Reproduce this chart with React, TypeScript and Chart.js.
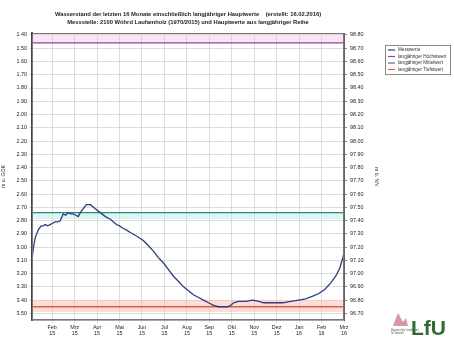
import { useEffect, useRef } from "react";
import Chart from "chart.js/auto";

const titleLines = [
  "Wasserstand der letzten 16 Monate einschließlich langjähriger Hauptwerte    (erstellt: 16.02.2016)",
  "Messstelle: 2100 Wöhrd Laufamholz (1970/2015) und Hauptwerte aus langjähriger Reihe",
];
const monthTicks = [1, 2, 3, 4, 5, 6, 7, 8, 9, 10, 11, 12, 13, 14];
const monthLabels = [
  ["Feb", "15"], ["Mrz", "15"], ["Apr", "15"], ["Mai", "15"], ["Jun", "15"], ["Jul", "15"],
  ["Aug", "15"], ["Sep", "15"], ["Okt", "15"], ["Nov", "15"], ["Dez", "15"], ["Jan", "16"],
  ["Feb", "16"], ["Mrz", "16"],
];
const dataMonths = [
  0.11, 0.15, 0.24, 0.38, 0.51, 0.6, 0.69, 0.8, 0.91, 1.02, 1.13, 1.25, 1.36, 1.49, 1.6, 1.71,
  1.82, 1.94, 2.05, 2.16, 2.25, 2.34, 2.52, 2.7, 2.92, 3.14, 3.37, 3.59, 3.86, 4.0, 4.17, 4.3,
  4.48, 4.79, 5.06, 5.29, 5.51, 5.73, 5.96, 6.18, 6.4, 6.63, 6.85, 7.07, 7.29, 7.52, 7.74, 7.96,
  8.19, 8.41, 8.63, 8.81, 8.95, 9.08, 9.3, 9.62, 9.93, 10.2, 10.42, 10.64, 10.96, 11.27, 11.63,
  11.98, 12.29, 12.61, 12.88, 13.14, 13.41, 13.63, 13.81, 13.95, 14.0,
];
const dataLevels = [
  3.08, 3.02, 2.93, 2.87, 2.84, 2.84, 2.83, 2.84, 2.83, 2.82, 2.81, 2.81, 2.8, 2.75, 2.76, 2.74,
  2.75, 2.75, 2.76, 2.77, 2.74, 2.72, 2.68, 2.68, 2.71, 2.74, 2.77, 2.79, 2.83, 2.84, 2.86, 2.87,
  2.89, 2.92, 2.95, 2.99, 3.03, 3.08, 3.12, 3.17, 3.22, 3.26, 3.3, 3.33, 3.36, 3.38, 3.4, 3.42,
  3.44, 3.45, 3.45, 3.45, 3.44, 3.42, 3.41, 3.41, 3.4, 3.41, 3.42, 3.42, 3.42, 3.42, 3.41, 3.4,
  3.39, 3.37, 3.35, 3.32, 3.27, 3.22, 3.16, 3.08, 3.04,
];
const leftTicks = [
  1.4, 1.5, 1.6, 1.7, 1.8, 1.9, 2.0, 2.1, 2.2, 2.3, 2.4, 2.5, 2.6, 2.7, 2.8, 2.9, 3.0, 3.1, 3.2,
  3.3, 3.4, 3.5,
];
const groundLevel = 100.2;
const seriesName = "Messwerte";
const refNames = ["langjähriger Höchstwert", "langjähriger Mittelwert", "langjähriger Tiefstwert"];
const refLevels = [1.46, 2.74, 3.45];
const bandRanges = [
  [1.385, 1.46],
  [2.74, 2.79],
  [3.4, 3.49],
];

const X_MIN = 0.1;
const X_MAX = 14.0;
const Y_MIN = 1.385;
const Y_MAX = 3.55;

const lineColor = "#2b3d86";
const refColors = ["#9a3fa6", "#2f8a72", "#e2603c"];
const bandColors = ["rgba(240,190,225,0.4)", "rgba(190,235,235,0.5)", "rgba(250,190,175,0.5)"];

export default function App() {
  const ref = useRef<HTMLCanvasElement | null>(null);
  useEffect(() => {
    document.body.style.margin = "0";
    const canvas = ref.current!;
    const datasets: any[] = [];
    datasets.push({
      label: seriesName,
      data: dataMonths.map((m, i) => ({ x: m, y: dataLevels[i] })),
      borderColor: lineColor,
      borderWidth: 1.3,
      pointRadius: 0,
      fill: false,
    });
    refLevels.forEach((v, i) => {
      datasets.push({
        label: refNames[i],
        data: [{ x: X_MIN, y: v }, { x: X_MAX, y: v }],
        borderColor: refColors[i],
        borderWidth: 1.3,
        pointRadius: 0,
        fill: false,
      });
    });
    bandRanges.forEach((b, i) => {
      datasets.push({
        label: "band" + i + "a",
        data: [{ x: X_MIN, y: b[0] }, { x: X_MAX, y: b[0] }],
        borderWidth: 0,
        borderColor: "rgba(0,0,0,0)",
        backgroundColor: bandColors[i],
        pointRadius: 0,
        fill: "+1",
      });
      datasets.push({
        label: "band" + i + "b",
        data: [{ x: X_MIN, y: b[1] }, { x: X_MAX, y: b[1] }],
        borderWidth: 0,
        borderColor: "rgba(0,0,0,0)",
        pointRadius: 0,
        fill: false,
      });
    });

    const decor = {
      id: "decor",
      afterDraw(chart: any) {
        const ctx = chart.ctx as CanvasRenderingContext2D;
        const a = chart.chartArea;
        ctx.save();
        ctx.strokeStyle = "#777";
        ctx.lineWidth = 1;
        ctx.strokeRect(a.left + 0.5, a.top + 0.5, a.right - a.left - 1, a.bottom - a.top - 1);
        ctx.fillStyle = "#222";
        ctx.textAlign = "center";
        ctx.textBaseline = "middle";
        ctx.font = "bold 5.8px 'Liberation Sans', Arial, sans-serif";
        const cx = (a.left + a.right) / 2;
        ctx.fillText(titleLines[0], cx, 14);
        ctx.fillText(titleLines[1], cx, 22);
        const lx = 385, ly = 45, lw = 65, lh = 29;
        ctx.fillStyle = "#fff";
        ctx.fillRect(lx, ly, lw, lh);
        ctx.strokeStyle = "#888";
        ctx.lineWidth = 1;
        ctx.strokeRect(lx + 0.5, ly + 0.5, lw, lh);
        const names = [seriesName, ...refNames];
        const cols = [lineColor, ...refColors];
        ctx.textAlign = "left";
        ctx.font = "4.6px 'Liberation Sans', Arial, sans-serif";
        names.forEach((n, i) => {
          const y = ly + 5 + i * 6.5;
          ctx.strokeStyle = cols[i];
          ctx.lineWidth = 1.2;
          ctx.beginPath();
          ctx.moveTo(lx + 3, y);
          ctx.lineTo(lx + 10, y);
          ctx.stroke();
          ctx.fillStyle = "#333";
          ctx.fillText(n, lx + 13, y);
        });
        ctx.fillStyle = "#c0506a";
        ctx.beginPath();
        ctx.moveTo(393, 326);
        ctx.lineTo(398, 313);
        ctx.lineTo(403, 322);
        ctx.lineTo(406, 318);
        ctx.lineTo(408, 326);
        ctx.closePath();
        ctx.globalAlpha = 0.6;
        ctx.fill();
        ctx.globalAlpha = 1;
        ctx.fillStyle = "#555";
        ctx.font = "2.6px 'Liberation Sans', Arial, sans-serif";
        ctx.fillText("Bayerisches Landesamt", 391, 330);
        ctx.fillText("für Umwelt", 391, 333);
        ctx.fillStyle = "#2f6b2f";
        ctx.font = "bold 21px 'Liberation Sans', Arial, sans-serif";
        ctx.textBaseline = "alphabetic";
        ctx.fillText("LfU", 411, 335);
        ctx.restore();
      },
    };

    const tickFont = { size: 5.4, family: "'Liberation Sans', Arial, sans-serif" };
    const chart = new Chart(canvas, {
      type: "line",
      data: { datasets },
      plugins: [decor],
      options: {
        animation: false,
        responsive: false,
        maintainAspectRatio: false,
        layout: { padding: { top: 33, right: 72, bottom: 0, left: 0 } },
        plugins: { legend: { display: false }, tooltip: { enabled: false }, title: { display: false } },
        scales: {
          x: {
            type: "linear",
            min: X_MIN,
            max: X_MAX,
            afterBuildTicks: (axis: any) => {
              axis.ticks = monthTicks.map((v) => ({ value: v }));
            },
            afterFit: (s: any) => {
              s.height = 21;
            },
            ticks: {
              autoSkip: false,
              maxRotation: 0,
              minRotation: 0,
              font: tickFont,
              color: "#222",
              padding: 1,
              callback: (v: any) => {
                const i = monthTicks.indexOf(Number(v));
                return i >= 0 ? monthLabels[i] : "";
              },
            },
            grid: { color: "#cfcfcf", lineWidth: 0.7, tickLength: 3 },
            border: { color: "#555", width: 1.5 },
          },
          y: {
            type: "linear",
            position: "left",
            reverse: true,
            min: Y_MIN,
            max: Y_MAX,
            afterBuildTicks: (axis: any) => {
              axis.ticks = leftTicks.map((v) => ({ value: v }));
            },
            afterFit: (s: any) => {
              s.width = 32;
            },
            ticks: {
              font: tickFont,
              color: "#222",
              padding: 2,
              callback: (v: any) => Number(v).toFixed(2),
            },
            title: {
              display: true,
              text: "m u. GOK",
              font: { size: 5.2, family: "'Liberation Sans', Arial, sans-serif" },
              color: "#333",
              padding: 0,
            },
            grid: { color: "#cfcfcf", lineWidth: 0.7, tickLength: 3 },
            border: { color: "#444", width: 2 },
          },
          y2: {
            type: "linear",
            position: "right",
            min: groundLevel - Y_MAX,
            max: groundLevel - Y_MIN,
            afterBuildTicks: (axis: any) => {
              axis.ticks = leftTicks.map((v) => ({ value: Math.round((groundLevel - v) * 100) / 100 }));
            },
            afterFit: (s: any) => {
              s.width = 38;
            },
            ticks: {
              font: tickFont,
              color: "#222",
              padding: 3,
              callback: (v: any) => Number(v).toFixed(2),
            },
            title: {
              display: true,
              text: "m ü. NN",
              font: { size: 5.2, family: "'Liberation Sans', Arial, sans-serif" },
              color: "#333",
              padding: 2,
            },
            grid: { drawOnChartArea: false, tickLength: 3, color: "#888" },
            border: { color: "#666", width: 1 },
          },
        },
      } as any,
    });
    return () => chart.destroy();
  }, []);
  return <canvas ref={ref} width={454} height={341} style={{ display: "block", width: 454, height: 341 }} />;
}
